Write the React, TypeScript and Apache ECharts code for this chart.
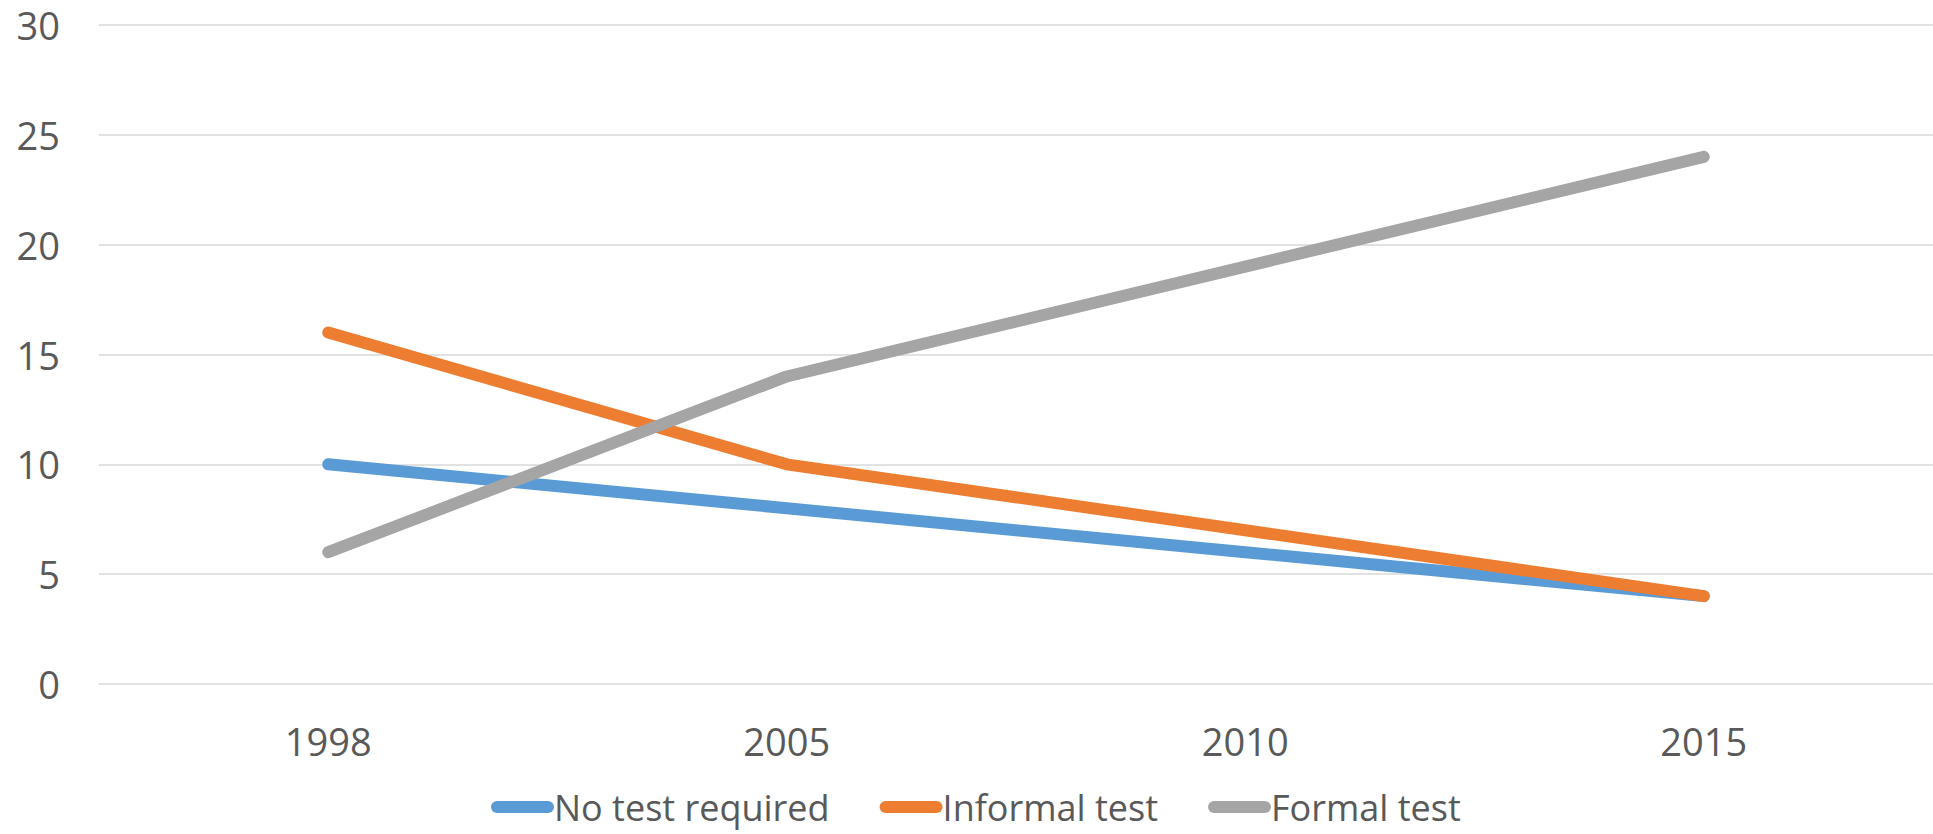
import React, { useEffect, useRef } from "react";
import * as echarts from "echarts";

const years = ["1998", "2005", "2010", "2015"];
const noTestRequired = [10, 8, 6, 4];
const informalTest = [16, 10, 7, 4];
const formalTest = [6, 14, 19, 24];
const seriesNames = ["No test required", "Informal test", "Formal test"];
const colors = ["#5B9BD5", "#ED7D31", "#A5A5A5"];

const pill = "path://M6,0 H57 A6,6 0 0 1 57,12 H6 A6,6 0 0 1 6,0 Z";

export default function App() {
  const ref = useRef<HTMLDivElement>(null);
  useEffect(() => {
    document.body.style.margin = "0";
    if (!ref.current) return;
    const chart = echarts.init(ref.current, undefined, { renderer: "svg" });
    const font = "'Open Sans', sans-serif";
    const dataSets = [noTestRequired, informalTest, formalTest];
    chart.setOption({
      animation: false,
      backgroundColor: "#ffffff",
      grid: { left: 99, top: 25, width: 1840, height: 659 },
      xAxis: {
        type: "category",
        data: years,
        boundaryGap: true,
        axisLine: { show: false },
        axisTick: { show: false },
        axisLabel: {
          color: "#595959",
          fontFamily: font,
          fontSize: 38,
          lineHeight: 40,
          margin: 37,
        },
      },
      yAxis: {
        type: "value",
        min: 0,
        max: 30,
        interval: 5,
        axisLine: { show: false },
        axisTick: { show: false },
        splitLine: { lineStyle: { color: "#D9D9D9", width: 1.5 } },
        axisLabel: {
          color: "#595959",
          fontFamily: font,
          fontSize: 38,
          margin: 39,
        },
      },
      legend: {
        left: 491,
        top: 789,
        padding: 0,
        itemWidth: 63,
        itemHeight: 12,
        itemGap: 50,
        icon: pill,
        textStyle: {
          color: "#595959",
          fontFamily: font,
          fontSize: 36,
          lineHeight: 36,
          padding: [0, 0, 0, -5],
        },
        data: seriesNames,
      },
      series: seriesNames.map((name, i) => ({
        name,
        type: "line",
        data: dataSets[i],
        showSymbol: false,
        symbol: "none",
        color: colors[i],
        lineStyle: { color: colors[i], width: 12, cap: "round", join: "round" },
      })),
    });
    return () => chart.dispose();
  }, []);
  return <div ref={ref} style={{ width: 1933, height: 834 }} />;
}
